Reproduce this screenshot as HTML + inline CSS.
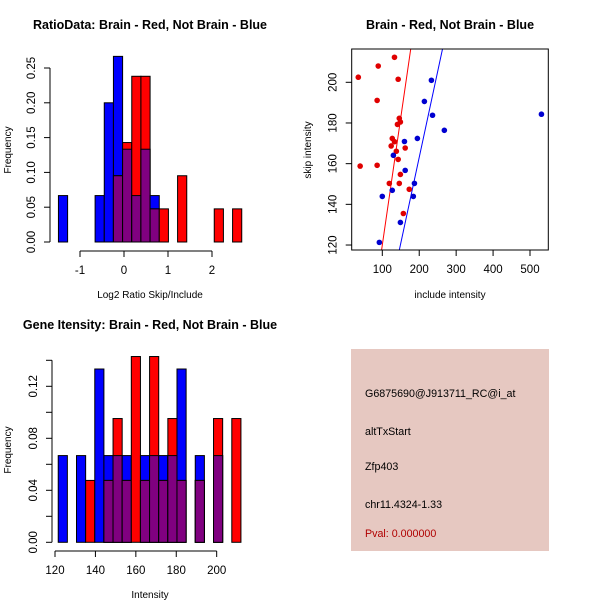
<!DOCTYPE html>
<html><head><meta charset="utf-8"><style>
body{margin:0;background:#fff}
svg{display:block;font-family:"Liberation Sans",sans-serif}
</style></head><body>
<svg id="c" width="600" height="600" viewBox="0 0 600 600">
<rect width="600" height="600" fill="#fff"/>
<g id="p1"></g>
<g id="p2"></g>
<g id="p3"></g>
<g>
<rect x="351" y="349" width="198" height="202" fill="#e6c8c1"/>
<text x="365" y="397" font-size="10.7">G6875690@J913711_RC@i_at</text>
<text x="365" y="435" font-size="10.7">altTxStart</text>
<text x="365" y="470" font-size="10.7">Zfp403</text>
<text x="365" y="508" font-size="10.7">chr11.4324-1.33</text>
<text x="365" y="537" font-size="10.7" fill="#b00000">Pval: 0.000000</text>
</g>
</svg>
<script>
// ---- Ratio histogram data ----
const ratioStart = -1.49;
const ratioWidth = 0.2083;
const ratioRed = [0,0,0,0,0,0,0.0952,0.1429,0.2381,0.2381,0.0476,0.0476,0,0.0952,0,0,0,0.0476,0,0.0476];
const ratioBlue = [0.0667,0,0,0,0.0667,0.2,0.2667,0.1333,0.0667,0.1333,0.0667,0,0,0,0,0,0,0,0,0];
const ratioXTicks = [-1,0,1,2];
const ratioYTicks = [0,0.05,0.10,0.15,0.20,0.25];
const ratioYLabels = ["0.00","0.05","0.10","0.15","0.20","0.25"];
// ---- Intensity histogram data ----
const intStart = 121.6;
const intWidth = 4.52;
const intRed = [0,0,0,0.0476,0,0.0476,0.0952,0.0476,0.1429,0.0476,0.1429,0.0476,0.0952,0.0476,0,0.0476,0,0.0952,0,0.0952];
const intBlue = [0.0667,0,0.0667,0,0.1333,0.0667,0.0667,0.0667,0,0.0667,0.0667,0.0667,0.0667,0.1333,0,0.0667,0,0.0667,0,0];
const intXTicks = [120,140,160,180,200];
const intYTicks = [0,0.02,0.04,0.06,0.08,0.10,0.12,0.14];
const intYLabels = ["0.00","","0.04","","0.08","","0.12",""];
// ---- Scatter data ----
const redX = [35,89,133,143,86,146,149,141,127,133,124,162,138,143,40,86,149,119,146,173,157];
const redY = [202.5,208,212.3,201.5,191.1,182.3,180.5,179.3,172.4,170.8,168.7,167.7,166.1,162.1,158.8,159.2,154.7,150.3,150.3,147.4,135.5];
const blueX = [233,214,236,531,268,195,160,130,162,187,100,184,127,149,92];
const blueY = [201,190.6,183.8,184.3,176.4,172.4,170.9,164.1,156.7,150.3,143.9,143.9,146.9,131.1,121.3];
const redLine = [-5.2,1.252];
const blueLine = [-5.9,0.845];
const scXTicks = [100,200,300,400,500];
const scYTicks = [120,140,160,180,200];

const NS="http://www.w3.org/2000/svg";
function mk(parent,tag,attrs,txt){const e=document.createElementNS(NS,tag);for(const k in attrs)e.setAttribute(k,attrs[k]);if(txt!==undefined)e.textContent=txt;parent.appendChild(e);return e;}

function hist(g,o){
  const sx=v=>o.x0+(v-o.d0)*o.kx, sy=v=>o.y0-v*o.ky;
  const n=o.red.length;
  for(let i=0;i<n;i++){
    const a=o.start+i*o.width,b=a+o.width;
    const r=o.red[i],bl=o.blue[i];
    if(bl>0){const e=mk(g,'rect',{x:sx(a),y:sy(bl),width:sx(b)-sx(a),height:sy(0)-sy(bl),fill:'#0000ff',stroke:'#000','stroke-width':1});
      
      }
    if(r>0){const e=mk(g,'rect',{x:sx(a),y:sy(r),width:sx(b)-sx(a),height:sy(0)-sy(r),fill:'#ff0000',stroke:'#000','stroke-width':1});
      
      }
    const m=Math.min(r,bl);
    if(m>0){const e=mk(g,'rect',{x:sx(a),y:sy(m),width:sx(b)-sx(a),height:sy(0)-sy(m),fill:'#800080',stroke:'#000','stroke-width':1});
      
      }
  }
  const xa=mk(g,'g',{});
  
  
  const t0=o.xt[0],t1=o.xt[o.xt.length-1];
  mk(xa,'line',{x1:sx(t0),x2:sx(t1),y1:o.axy,y2:o.axy,stroke:'#000'});
  o.xt.forEach(t=>{mk(xa,'line',{x1:sx(t),x2:sx(t),y1:o.axy,y2:o.axy+6,stroke:'#000'});
    mk(xa,'text',{x:sx(t),y:o.axy+23,'font-size':11.5,'text-anchor':'middle'},String(t));});
  const ya=mk(g,'g',{});
  
  
  mk(ya,'line',{x1:o.yax,x2:o.yax,y1:sy(o.yt[0]),y2:sy(o.yt[o.yt.length-1]),stroke:'#000'});
  o.yt.forEach((t,i)=>{mk(ya,'line',{x1:o.yax-6,x2:o.yax,y1:sy(t),y2:sy(t),stroke:'#000'});
    if(o.yl[i])mk(ya,'text',{transform:`translate(${o.yax-15},${sy(t)}) rotate(-90)`,'font-size':11.5,'text-anchor':'middle'},o.yl[i]);});
}

const p1=document.getElementById('p1');
mk(p1,'text',{x:150,y:29,'font-size':12.5,'font-weight':'bold','text-anchor':'middle',},'RatioData: Brain - Red, Not Brain - Blue');
hist(p1,{red:ratioRed,blue:ratioBlue,start:ratioStart,width:ratioWidth,x0:124,d0:0,kx:44,y0:242,ky:696,xt:ratioXTicks,yt:ratioYTicks,yl:ratioYLabels,axy:251,yax:50});
mk(p1,'text',{x:150,y:298,'font-size':10,'text-anchor':'middle',},'Log2 Ratio Skip/Include');
mk(p1,'text',{transform:'translate(11,150) rotate(-90)','font-size':10,'text-anchor':'middle',},'Frequency');

const p3=document.getElementById('p3');
mk(p3,'text',{x:150,y:329,'font-size':12.5,'font-weight':'bold','text-anchor':'middle',},'Gene Itensity: Brain - Red, Not Brain - Blue');
hist(p3,{red:intRed,blue:intBlue,start:intStart,width:intWidth,x0:55,d0:120,kx:2.021,y0:542.3,ky:1300,xt:intXTicks,yt:intYTicks,yl:intYLabels,axy:551,yax:52});
mk(p3,'text',{x:150,y:598,'font-size':10,'text-anchor':'middle',},'Intensity');
mk(p3,'text',{transform:'translate(11,450) rotate(-90)','font-size':10,'text-anchor':'middle',},'Frequency');

const p2=document.getElementById('p2');
const bx0=351.7,bx1=548.3,by0=49,by1=250;
const scx=v=>382.3+(v-100)*0.36925, scy=v=>82.3-(v-200)*2.034;
mk(p2,'text',{x:450,y:29,'font-size':12.5,'font-weight':'bold','text-anchor':'middle',},'Brain - Red, Not Brain - Blue');
mk(p2,'defs',{}).innerHTML='<clipPath id="clp"><rect x="'+bx0+'" y="'+by0+'" width="'+(bx1-bx0)+'" height="'+(by1-by0)+'"/></clipPath>';
const lg=mk(p2,'g',{'clip-path':'url(#clp)'});
[[redLine,'#ff0000','red-fit-line'],[blueLine,'#0000ff','blue-fit-line']].forEach(([L,c,n])=>{
  const ya=100,yb=230;const xa=(ya-L[0])/L[1],xb=(yb-L[0])/L[1];
  const e=mk(lg,'line',{x1:scx(xa),y1:scy(ya),x2:scx(xb),y2:scy(yb),stroke:c,'stroke-width':1});
  
  
});
redX.forEach((x,i)=>{const e=mk(p2,'circle',{cx:scx(x),cy:scy(redY[i]),r:2.8,fill:'#e00000'});
  
  });
blueX.forEach((x,i)=>{const e=mk(p2,'circle',{cx:scx(x),cy:scy(blueY[i]),r:2.8,fill:'#0000d0'});
  
  });
mk(p2,'rect',{x:bx0,y:by0,width:bx1-bx0,height:by1-by0,fill:'none',stroke:'#000',});
const sxa=mk(p2,'g',{});


scXTicks.forEach(t=>{mk(sxa,'line',{x1:scx(t),x2:scx(t),y1:by1,y2:by1+6,stroke:'#000'});
  mk(sxa,'text',{x:scx(t),y:by1+23,'font-size':11.5,'text-anchor':'middle'},String(t));});
const sya=mk(p2,'g',{});


scYTicks.forEach(t=>{mk(sya,'line',{x1:bx0-6,x2:bx0,y1:scy(t),y2:scy(t),stroke:'#000'});
  mk(sya,'text',{transform:`translate(${bx0-15},${scy(t)}) rotate(-90)`,'font-size':11.5,'text-anchor':'middle'},String(t));});
mk(p2,'text',{x:450,y:298,'font-size':10,'text-anchor':'middle',},'include intensity');
mk(p2,'text',{transform:'translate(311,150) rotate(-90)','font-size':10,'text-anchor':'middle',},'skip intensity');
</script>
</body></html>
